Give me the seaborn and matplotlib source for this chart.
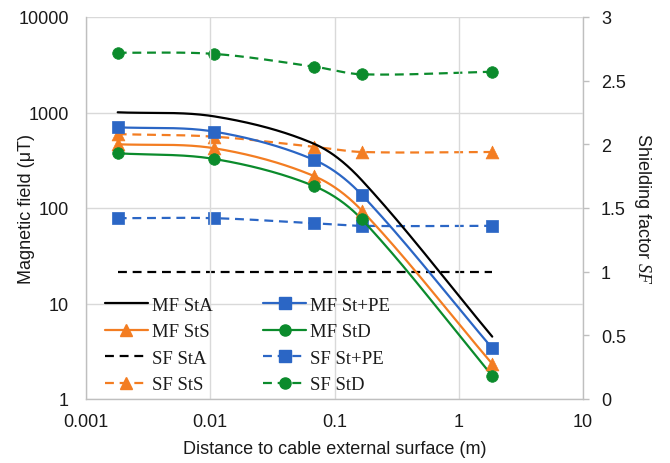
import numpy as np
import matplotlib
matplotlib.use("Agg")
import matplotlib.pyplot as plt
from matplotlib.lines import Line2D
import seaborn as sns

# ---- data ----
distance = [0.0018, 0.0108, 0.069, 0.166, 1.86]
mf_sta = [1005, 910, 468, 195, 4.5]
mf_stpe = [700, 630, 318, 137, 3.4]
mf_sts = [465, 422, 215, 94, 2.33]
mf_std = [374, 326, 169, 76, 1.75]
sf_sta = [1.0, 1.0, 1.0, 1.0, 1.0]
sf_stpe = [1.42, 1.42, 1.38, 1.36, 1.36]
sf_sts = [2.08, 2.06, 1.98, 1.94, 1.94]
sf_std = [2.72, 2.71, 2.61, 2.55, 2.57]

xticks = [0.001, 0.01, 0.1, 1, 10]
xtick_labels = ["0.001", "0.01", "0.1", "1", "10"]
yticks_left = [1, 10, 100, 1000, 10000]
ytick_left_labels = ["1", "10", "100", "1000", "10000"]
yticks_right = [0, 0.5, 1, 1.5, 2, 2.5, 3]
ytick_right_labels = ["0", "0.5", "1", "1.5", "2", "2.5", "3"]

BLACK = "#000000"
BLUE = "#2B66C5"
ORANGE = "#F37D22"
GREEN = "#0B8B2C"

sns.set_theme(style="white")
plt.rcParams["font.family"] = ["Liberation Sans", "DejaVu Sans"]
plt.rcParams["mathtext.fontset"] = "custom"
plt.rcParams["mathtext.it"] = "Liberation Serif:italic"
plt.rcParams["mathtext.rm"] = "Liberation Sans"


def smooth(xs, ys, logy, yscale, n=60, xscale=124.5):
    """Excel-like smoothed curve (Bezier with length-weighted Catmull-Rom
    tangents), computed in axis-transformed (display-proportional) space."""
    tx = np.log10(np.asarray(xs, float)) * xscale
    ty = (np.log10(np.asarray(ys, float)) if logy else np.asarray(ys, float)) * yscale
    P = np.column_stack([tx, ty])
    m = len(P)
    d = np.linalg.norm(np.diff(P, axis=0), axis=1)
    T = np.zeros_like(P)
    for i in range(m):
        if i == 0:
            T[i] = (P[1] - P[0]) / d[0]
        elif i == m - 1:
            T[i] = (P[-1] - P[-2]) / d[-1]
        else:
            T[i] = (P[i + 1] - P[i - 1]) / (d[i - 1] + d[i])
    out = []
    t = np.linspace(0, 1, n)
    for i in range(m - 1):
        p1, p2 = P[i], P[i + 1]
        c1 = p1 + T[i] * d[i] / 3.0
        c2 = p2 - T[i + 1] * d[i] / 3.0
        seg = ((1 - t) ** 3)[:, None] * p1 + (3 * (1 - t) ** 2 * t)[:, None] * c1 \
            + (3 * (1 - t) * t ** 2)[:, None] * c2 + (t ** 3)[:, None] * p2
        out.append(seg if i == 0 else seg[1:])
    S = np.vstack(out)
    sx = 10 ** (S[:, 0] / xscale)
    sy = 10 ** (S[:, 1] / yscale) if logy else S[:, 1] / yscale
    return sx, sy


fig = plt.figure(figsize=(6.7, 4.64), dpi=100)
ax = fig.add_axes([86 / 670, 1 - 400 / 464, (583 - 86) / 670, (400 - 18) / 464])
ax2 = ax.twinx()

LW = 1.6
DASH = (4, 2.6)

mf_series = [
    (mf_sta, BLACK, None),
    (mf_stpe, BLUE, "s"),
    (mf_sts, ORANGE, "^"),
    (mf_std, GREEN, "o"),
]
sf_series = [
    (sf_sta, BLACK, None),
    (sf_stpe, BLUE, "s"),
    (sf_sts, ORANGE, "^"),
    (sf_std, GREEN, "o"),
]
msize = {"s": 75, "^": 85, "o": 70}

for vals, col, mk in sf_series:
    sx, sy = smooth(distance, vals, logy=False, yscale=127.3)
    sns.lineplot(x=sx, y=sy, ax=ax2, color=col, lw=LW, sort=False,
                 estimator=None, linestyle=(0, DASH), zorder=2)
    if mk:
        sns.scatterplot(x=distance, y=vals, ax=ax2, color=col, marker=mk,
                        s=msize[mk], edgecolor=col, linewidth=0.5, zorder=3)

for vals, col, mk in mf_series:
    sx, sy = smooth(distance, vals, logy=True, yscale=95.5)
    sns.lineplot(x=sx, y=sy, ax=ax, color=col, lw=LW, sort=False,
                 estimator=None, zorder=2)
    if mk:
        sns.scatterplot(x=distance, y=vals, ax=ax, color=col, marker=mk,
                        s=msize[mk], edgecolor=col, linewidth=0.5, zorder=3)

ax.set_xscale("log")
ax.set_yscale("log")
ax.set_xlim(0.001, 10)
ax.set_ylim(1, 10000)
ax2.set_ylim(0, 3)

ax.set_zorder(ax2.get_zorder() + 1)
ax.patch.set_visible(False)

GRID = "#D9D9D9"
ax.set_xticks(xticks)
ax.set_xticklabels(xtick_labels)
ax.set_yticks(yticks_left)
ax.set_yticklabels(ytick_left_labels)
ax.xaxis.set_minor_locator(matplotlib.ticker.NullLocator())
ax.yaxis.set_minor_locator(matplotlib.ticker.NullLocator())
ax.grid(True, which="major", axis="both", color=GRID, lw=1.0)
ax.set_axisbelow(True)
ax2.set_yticks(yticks_right)
ax2.set_yticklabels(ytick_right_labels)
ax2.grid(False)

TXT = "#1a1a1a"
FS = 13
ax.tick_params(axis="x", which="both", length=0, labelsize=FS, colors=TXT, pad=10)
ax.tick_params(axis="y", which="both", length=0, labelsize=FS, colors=TXT, pad=12.5)
ax2.tick_params(axis="y", length=4.5, width=1, color="#BFBFBF", labelsize=FS,
                labelcolor=TXT, pad=8.5, direction="out")

for a in (ax, ax2):
    a.spines["top"].set_visible(False)
    for s in ("left", "bottom", "right"):
        a.spines[s].set_color("#BFBFBF")
        a.spines[s].set_linewidth(1.0)
ax.spines["right"].set_visible(False)
ax2.spines["left"].set_visible(False)
ax2.spines["bottom"].set_visible(False)

ax.set_xlabel("Distance to cable external surface (m)", fontsize=FS, color=TXT)
ax.set_ylabel("Magnetic field (μT)", fontsize=FS, color=TXT)
ax2.set_ylabel("Shielding factor $\\mathit{SF}$", fontsize=FS, color=TXT, rotation=270)
ax.xaxis.set_label_coords(0.5, (400 - 450) / 382)
ax.xaxis.label.set_va("center")
ax.yaxis.set_label_coords((27 - 86) / 497, 0.5)
ax.yaxis.label.set_ha("center")
ax.yaxis.label.set_va("center")
ax2.yaxis.set_label_coords((642 - 86) / 497, 0.5)
ax2.yaxis.label.set_ha("center")
ax2.yaxis.label.set_va("center")

# ---- legend (column-major order to mimic row layout) ----
def h(col, mk, dashed):
    return Line2D([0], [0], color=col, lw=LW, marker=mk if mk else None,
                  markersize=8, linestyle=(0, DASH) if dashed else "-")

handles = [
    h(BLACK, None, False), h(ORANGE, "^", False), h(BLACK, None, True), h(ORANGE, "^", True),
    h(BLUE, "s", False), h(GREEN, "o", False), h(BLUE, "s", True), h(GREEN, "o", True),
]
labels = ["MF StA", "MF StS", "SF StA", "SF StS",
          "MF St+PE", "MF StD", "SF St+PE", "SF StD"]
leg = ax.legend(handles, labels, ncol=2, loc="lower left",
                bbox_to_anchor=(0.038, 0.015), frameon=False,
                prop={"family": "Liberation Serif", "size": 13.5},
                handlelength=2.3, handletextpad=0.2, columnspacing=2.7,
                labelspacing=0.5, borderpad=0, borderaxespad=0)
for t in leg.get_texts():
    t.set_color(TXT)

fig.savefig("out.png", dpi=100)
